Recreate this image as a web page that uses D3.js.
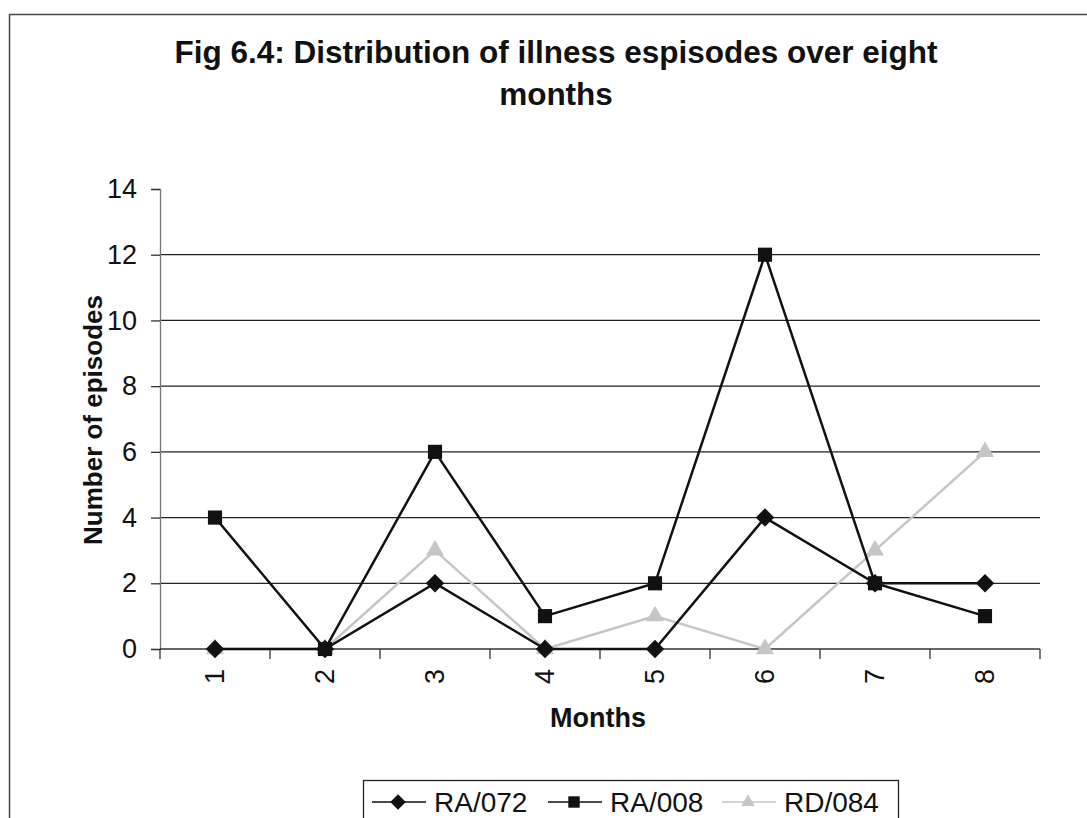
<!DOCTYPE html>
<html>
<head>
<meta charset="utf-8">
<script src="https://cdn.jsdelivr.net/npm/d3@7"></script>
<style>
  html, body { margin: 0; padding: 0; background: #fff; }
  svg { display: block; font-family: Arial, "Liberation Sans", sans-serif; }
</style>
</head>
<body>
<svg id="chart" width="1087" height="818"></svg>
<script>
// Months on the x axis
const months = ["1", "2", "3", "4", "5", "6", "7", "8"];
// Illness episodes per month for each child
const ra072 = [0, 0, 2, 0, 0, 4, 2, 2];
const ra008 = [4, 0, 6, 1, 2, 12, 2, 1];
const rd084 = [0, 0, 3, 0, 1, 0, 3, 6];
const seriesNames = ["RA/072", "RA/008", "RD/084"];
const yTicks = [0, 2, 4, 6, 8, 10, 12, 14];

const svg = d3.select("#chart");

// outer chart frame (top and left edges)
svg.append("path")
  .attr("d", "M9.5,818 V14.5 H1087")
  .attr("fill", "none").attr("stroke", "#444").attr("stroke-width", 1.5);

// title
const title = svg.append("text")
  .attr("text-anchor", "middle")
  .attr("font-weight", "bold").attr("font-size", 31.5).attr("fill", "#111");
title.append("tspan").attr("x", 556).attr("y", 63).text("Fig 6.4: Distribution of illness espisodes over eight");
title.append("tspan").attr("x", 556).attr("y", 105).text("months");

const x = d3.scaleBand().domain(months).range([160, 1040]);
const y = d3.scaleLinear().domain([0, 14]).range([649, 189]);

// horizontal gridlines
svg.append("g").selectAll("line")
  .data(yTicks.filter(t => t > 0 && t < 14))
  .join("line")
  .attr("x1", 160).attr("x2", 1040)
  .attr("y1", d => y(d)).attr("y2", d => y(d))
  .attr("stroke", "#222").attr("stroke-width", 1.3);

// y axis
const yAxis = svg.append("g")
  .attr("transform", "translate(160,0)")
  .call(d3.axisLeft(y).tickValues(yTicks).tickSize(9).tickPadding(14));
yAxis.select(".domain").attr("stroke", "#777").attr("stroke-width", 1.3);
yAxis.selectAll(".tick line").attr("stroke", "#333").attr("stroke-width", 1.3);
yAxis.selectAll(".tick text")
  .attr("font-size", 27).attr("font-family", "Arial, 'Liberation Sans', sans-serif")
  .attr("fill", "#111");

// x axis with ticks at band boundaries
const xAxisG = svg.append("g").attr("transform", "translate(0,649)");
xAxisG.append("line")
  .attr("x1", 160).attr("x2", 1040).attr("y1", 0).attr("y2", 0)
  .attr("stroke", "#333").attr("stroke-width", 1.5);
const bounds = months.map(m => x(m)).concat([x.range()[1]]);
xAxisG.selectAll("line.tk").data(bounds).join("line")
  .attr("class", "tk")
  .attr("x1", d => d).attr("x2", d => d).attr("y1", 0).attr("y2", 10)
  .attr("stroke", "#333").attr("stroke-width", 1.3);
xAxisG.selectAll("text").data(months).join("text")
  .attr("transform", d => `translate(${x(d) + x.bandwidth() / 2},20) rotate(-90)`)
  .attr("text-anchor", "end").attr("dy", "0.35em")
  .attr("font-size", 27).attr("fill", "#111")
  .text(d => d);

// axis titles
svg.append("text")
  .attr("transform", "translate(102,420) rotate(-90)")
  .attr("text-anchor", "middle")
  .attr("font-weight", "bold").attr("font-size", 26).attr("fill", "#111")
  .text("Number of episodes");
svg.append("text")
  .attr("x", 598).attr("y", 727)
  .attr("text-anchor", "middle")
  .attr("font-weight", "bold").attr("font-size", 27).attr("fill", "#111")
  .text("Months");

// marker shapes: a square turned 45 degrees gives the even diamond
const markerPath = (type, size) => {
  if (type === "diamond") {
    const r = Math.sqrt(size) * Math.SQRT2 / 2;
    return `M0,${-r}L${r},0L0,${r}L${-r},0Z`;
  }
  if (type === "square") return d3.symbol().type(d3.symbolSquare).size(size)();
  return d3.symbol().type(d3.symbolTriangle).size(size)();
};

// series
const cx = m => x(m) + x.bandwidth() / 2;
const series = [
  { name: seriesNames[2], values: rd084, color: "#c6c6c6", marker: "triangle", size: 140 },
  { name: seriesNames[0], values: ra072, color: "#111", marker: "diamond", size: 170 },
  { name: seriesNames[1], values: ra008, color: "#111", marker: "square", size: 200 }
];
const line = d3.line().x(d => cx(d.m)).y(d => y(d.v));

series.forEach(s => {
  const pts = months.map((m, i) => ({ m, v: s.values[i] }));
  const g = svg.append("g");
  g.append("path").datum(pts)
    .attr("d", line).attr("fill", "none")
    .attr("stroke", s.color).attr("stroke-width", 2.5);
  g.selectAll("path.mk").data(pts).join("path")
    .attr("class", "mk")
    .attr("transform", d => `translate(${cx(d.m)},${y(d.v)})`)
    .attr("d", markerPath(s.marker, s.size))
    .attr("fill", s.color);
});

// legend
const legend = svg.append("g");
legend.append("rect")
  .attr("x", 363.5).attr("y", 780.5).attr("width", 535).attr("height", 60)
  .attr("fill", "#fff").attr("stroke", "#222").attr("stroke-width", 1.3);
const legendItems = [
  { name: seriesNames[0], color: "#111", marker: "diamond", size: 120, x0: 372 },
  { name: seriesNames[1], color: "#111", marker: "square", size: 130, x0: 548 },
  { name: seriesNames[2], color: "#c6c6c6", marker: "triangle", size: 80, x0: 722 }
];
legendItems.forEach(it => {
  legend.append("line")
    .attr("x1", it.x0).attr("x2", it.x0 + 54).attr("y1", 802).attr("y2", 802)
    .attr("stroke", it.color).attr("stroke-width", 1.6);
  legend.append("path")
    .attr("transform", `translate(${it.x0 + 26},802)`)
    .attr("d", markerPath(it.marker, it.size))
    .attr("fill", it.color);
  legend.append("text")
    .attr("x", it.x0 + 62).attr("y", 812)
    .attr("font-size", 28).attr("fill", "#111")
    .text(it.name);
});
</script>
</body>
</html>
